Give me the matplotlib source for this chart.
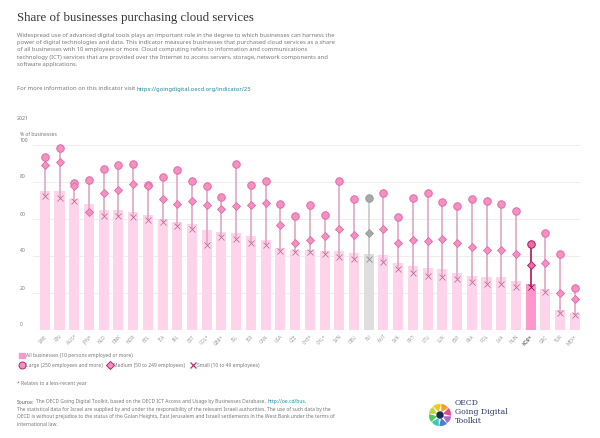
import matplotlib
matplotlib.use("Agg")
import matplotlib.pyplot as plt
import matplotlib.transforms as mtransforms
from matplotlib.patches import Wedge, Circle
import numpy as np

countries = ["SWE", "FIN", "AUS*", "JPN*", "NLD", "DNK", "NOR", "BEL", "ITA", "IRL",
             "EST", "COL*", "GBR*", "ISL", "ISR", "CAN", "USA", "CZE", "CHE*", "CHL*",
             "SVN", "DEU", "EU", "AUT", "SVK", "PRT", "LTU", "LUX", "ESP", "FRA",
             "POL", "LVA", "HUN", "KOR*", "GRC", "TUR", "MEX*"]
all_bus = [75.1, 75.0, 70.6, 68.3, 64.9, 64.7, 63.8, 62.0, 60.2, 58.4,
           57.3, 54.0, 52.8, 52.6, 50.6, 48.6, 44.1, 43.4, 43.2, 42.9,
           42.5, 41.4, 40.9, 40.4, 36.0, 34.6, 33.5, 33.2, 30.8, 29.4,
           28.8, 28.6, 26.3, 25.0, 22.2, 10.8, 9.4]
large = [93.7, 98.2, 79.6, 80.9, 87.2, 89.2, 89.7, 78.6, 82.5, 86.3,
         80.4, 77.7, 72.1, 89.5, 78.6, 80.7, 67.9, 61.5, 67.7, 62.2,
         80.5, 70.6, 71.5, 74.3, 61.1, 71.4, 74.1, 69.2, 67.2, 71.0,
         69.7, 67.9, 64.3, 46.3, 52.4, 41.1, 22.7]
medium = [89.0, 91.0, 77.8, 63.8, 74.0, 75.9, 79.1, 78.0, 71.0, 68.1,
          69.9, 67.4, 65.6, 66.8, 67.4, 68.8, 56.6, 47.2, 48.6, 50.6,
          54.8, 51.5, 52.6, 54.6, 46.8, 48.8, 48.3, 49.2, 47.2, 45.0,
          43.1, 43.4, 41.3, 35.3, 36.4, 19.8, 16.8]
small = [72.4, 71.4, 69.9, None, 61.8, 61.8, 60.9, 59.5, 58.6, 56.0,
         54.6, 45.8, 50.3, 49.4, 46.8, 45.9, 42.7, 42.2, 42.2, 40.9,
         39.5, 38.2, 38.2, 36.9, 32.8, 30.8, 29.2, 28.8, 27.6, 25.9,
         24.9, 25.0, 23.0, 23.0, 20.5, 9.0, 7.9]
yticks = [0, 20, 40, 60, 80, 100]
highlight = "KOR*"
aggregate = "EU"

W, H = 600, 438
fig = plt.figure(figsize=(6, 4.38), dpi=100)
plt.rcParams['font.family'] = ['Noto Sans', 'DejaVu Sans']

def fy(px):
    return 1 - px / H

def fx(px):
    return px / W

TXT = "#777777"
fig.text(fx(17), fy(18), "Share of businesses purchasing cloud services",
         fontsize=9.3, family="Liberation Serif", color="#333333", va="center")
desc = ("Widespread use of advanced digital tools plays an important role in the degree to which businesses can harness the\n"
        "power of digital technologies and data. This indicator measures businesses that purchased cloud services as a share\n"
        "of all businesses with 10 employees or more. Cloud computing refers to information and communications\n"
        "technology (ICT) services that are provided over the Internet to access servers, storage, network components and\n"
        "software applications.")
fig.text(fx(17), fy(33), desc, fontsize=4.2, color=TXT, va="top", linespacing=1.55)
t = fig.text(fx(17), fy(89), "For more information on this indicator visit ", fontsize=4.2,
             color=TXT, va="center")
fig.canvas.draw()
bb = t.get_window_extent()
fig.text(bb.x1 / W, fy(89), "https://goingdigital.oecd.org/indicator/25", fontsize=4.2,
         color="#1f8a9a", va="center")
fig.text(fx(17), fy(118), "2021", fontsize=3.8, color=TXT, va="center")
fig.text(fx(20), fy(135), "% of businesses", fontsize=3.6, color=TXT, va="center")

ax = fig.add_axes([fx(33), fy(330), fx(580) - fx(33), fy(145) - fy(330)])
x = np.arange(len(countries))
bar_colors = []
for c in countries:
    if c == highlight:
        bar_colors.append("#ff97cc")
    elif c == aggregate:
        bar_colors.append("#dedede")
    else:
        bar_colors.append("#fed4ea")
ax.bar(x, all_bus, width=0.68, color=bar_colors, zorder=2)

for i, c in enumerate(countries):
    vals = [v for v in (large[i], medium[i], small[i]) if v is not None]
    if c == highlight:
        lc, fc, ec, xc, lw = "#b3286c", "#f06aa8", "#a8185a", "#8a1048", 1.3
    elif c == aggregate:
        lc, fc, ec, xc, lw = "#c8c8c8", "#a8a8a8", "#9a9a9a", "#909090", 1.2
    else:
        lc, fc, ec, xc, lw = "#e2a6c4", "#f590c3", "#e26aa6", "#c07098", 1.2
    ax.plot([i, i], [min(vals), max(vals)], color=lc, lw=lw, zorder=3,
            solid_capstyle="butt")
    ax.plot(i, large[i], "o", ms=5.4, mfc=fc, mec=ec, mew=0.7, zorder=4, clip_on=False)
    ax.plot(i, medium[i], "D", ms=3.8, mfc=fc, mec=ec, mew=0.6, zorder=4, clip_on=False)
    if small[i] is not None:
        ax.plot(i, small[i], "x", ms=4.0, mec=xc, mew=0.6, zorder=5, clip_on=False)

ax.set_xlim(-0.8, len(countries) - 0.65)
ax.set_ylim(0, 100)
ax.set_yticks(yticks)
ax.yaxis.grid(True, color="#eeeeee", lw=0.7, zorder=0)
ax.set_axisbelow(True)
for s in ax.spines.values():
    s.set_visible(False)
ax.tick_params(axis="y", length=0, labelsize=3.6, labelcolor=TXT, pad=0)
ax.set_yticklabels([str(v) for v in yticks])
off = mtransforms.ScaledTranslation(-13 / 100, 2.5 / 100, fig.dpi_scale_trans)
for lab in ax.get_yticklabels():
    lab.set_ha("left")
    lab.set_va("bottom")
    lab.set_transform(lab.get_transform() + off)

ax.set_xticks(x)
ax.set_xticklabels(countries, rotation=45, ha="right", rotation_mode="anchor",
                   fontsize=3.4, color="#999999")
ax.tick_params(axis="x", length=0, pad=3)
for lab in ax.get_xticklabels():
    if lab.get_text() == highlight:
        lab.set_color("#333333")
        lab.set_fontweight("bold")

# legend
fs = 3.6
fig.patches.append(plt.Rectangle((fx(19), fy(358)), 5.5 / W, 5.5 / H,
                                 transform=fig.transFigure, color="#f79acb"))
fig.text(fx(26), fy(355), "All businesses (10 persons employed or more)", fontsize=fs,
         color=TXT, va="center")
lax = fig.add_axes([0, 0, 1, 1], zorder=-1)
lax.set_xlim(0, W)
lax.set_ylim(H, 0)
lax.axis("off")
lax.plot(21.8, 365, "o", ms=5, mfc="#f590c3", mec="#b3286c", mew=0.7)
fig.text(fx(26), fy(365), "Large (250 employees and more)", fontsize=fs, color=TXT, va="center")
lax.plot(109.5, 365, "D", ms=3.8, mfc="#f590c3", mec="#b3286c", mew=0.7)
fig.text(fx(113), fy(365), "Medium (50 to 249 employees)", fontsize=fs, color=TXT, va="center")
lax.plot(193, 365, "x", ms=4, mec="#c0306e", mew=0.9)
fig.text(fx(197), fy(365), "Small (10 to 49 employees)", fontsize=fs, color=TXT, va="center")

fig.text(fx(17), fy(384), "* Relates to a less-recent year", fontsize=fs, color=TXT, va="center")

src = fig.text(fx(17), fy(402), "Source:", fontsize=fs, color="#555555", fontweight="bold", va="center")
fig.canvas.draw()
b2 = src.get_window_extent()
s2 = fig.text(b2.x1 / W + 0.003, fy(402),
              "The OECD Going Digital Toolkit, based on the OECD ICT Access and Usage by Businesses Database, ",
              fontsize=fs, color=TXT, va="center")
fig.canvas.draw()
b3 = s2.get_window_extent()
fig.text(b3.x1 / W, fy(402), "http://oe.cd/bus.", fontsize=fs, color="#1f8a9a", va="center")
fig.text(fx(17), fy(407),
         "The statistical data for Israel are supplied by and under the responsibility of the relevant Israeli authorities. The use of such data by the\n"
         "OECD is without prejudice to the status of the Golan Heights, East Jerusalem and Israeli settlements in the West Bank under the terms of\n"
         "international law.", fontsize=fs, color=TXT, va="top", linespacing=1.6)

# logo
cx, cy, r = 440, 415, 11
cols = ["#f7941d", "#e0338a", "#a45cc8", "#3a6fd8", "#20c4b0", "#3cc24a", "#b6d433", "#f6c000"]
for k, col in enumerate(cols):
    ang = 90 - k * 45
    dx = 3.2 * np.cos(np.radians(ang - 22.5))
    dy = 3.2 * np.sin(np.radians(ang - 22.5))
    lax.add_patch(Wedge((cx + dx, cy - dy), 8, -(ang), -(ang - 60), color=col, alpha=0.9, lw=0))
lax.add_patch(Circle((cx, cy), 3, color="#1d2a55"))
fig.text(fx(455), fy(399), "OECD\nGoing Digital\nToolkit", fontsize=5.6, family="DejaVu Serif",
         color="#2b3a67", va="top", linespacing=1.2)

fig.savefig("out.png", dpi=100)
